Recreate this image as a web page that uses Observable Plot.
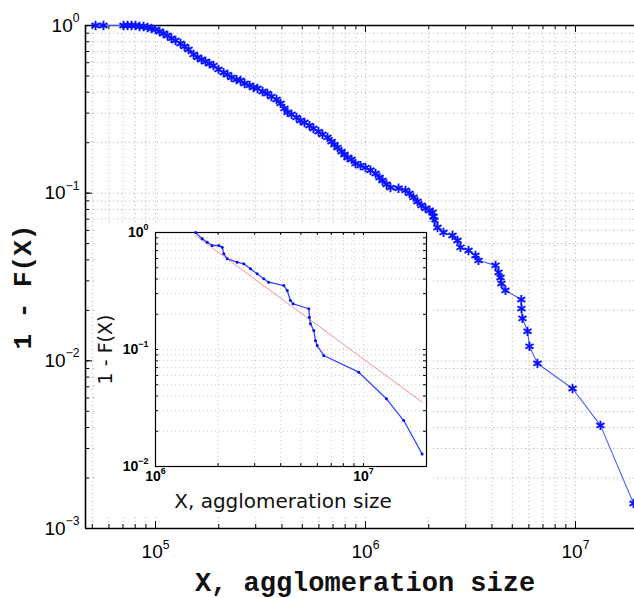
<!DOCTYPE html>
<html><head><meta charset="utf-8">
<script src="https://cdn.jsdelivr.net/npm/d3@7"></script>
<script src="https://cdn.jsdelivr.net/npm/@observablehq/plot@0.6"></script>
<style>
body{margin:0;background:#fff;}
#wrap{position:relative;width:634px;height:598px;overflow:hidden;background:#fff;}
#wrap svg{position:absolute;}
</style></head><body><div id="wrap"></div>
<script>
// ---- main CCDF ----
const mainX = [5.18e4,5.65e4,7.04e4,7.36e4,7.69e4,8.03e4,8.39e4,8.77e4,9.16e4,9.57e4,
  1.0e5,1.045e5,1.09e5,1.14e5,1.19e5,1.245e5,1.315e5,1.374e5,1.436e5,1.517e5,
  1.585e5,1.656e5,1.73e5,1.807e5,1.888e5,1.995e5,2.109e5,2.203e5,2.30e5,2.43e5,
  2.54e5,2.655e5,2.805e5,2.93e5,3.06e5,3.235e5,3.41e5,3.565e5,3.77e5,3.94e5,
  4.11e5,4.255e5,4.445e5,4.69e5,4.90e5,5.125e5,5.41e5,5.65e5,5.97e5,6.24e5,
  6.59e5,6.89e5,7.12e5,7.36e5,7.69e5,7.94e5,8.21e5,8.58e5,8.96e5,9.47e5,
  1.0e6,1.056e6,1.116e6,1.166e6,1.205e6,1.259e6,1.315e6,1.436e6,1.55e6,1.62e6,
  1.693e6,1.768e6,1.848e6,1.931e6,2.018e6,2.085e6,2.108e6,2.131e6,2.202e6,2.352e6,
  2.596e6,2.742e6,2.834e6,3.094e6,3.34e6,3.452e6,4.16e6,4.30e6,4.395e6,4.44e6,
  4.64e6,5.52e6,5.53e6,5.59e6,5.91e6,6.04e6,6.59e6,9.68e6,1.315e7,1.89e7];
const mainY = [1,1,1,1,1,1,0.986,0.986,0.973,0.960,
  0.946,0.921,0.896,0.872,0.837,0.814,0.781,0.750,0.719,0.672,
  0.645,0.627,0.610,0.593,0.577,0.547,0.524,0.510,0.490,0.476,
  0.470,0.451,0.439,0.427,0.421,0.404,0.393,0.377,0.362,0.343,
  0.320,0.303,0.295,0.283,0.271,0.264,0.253,0.243,0.233,0.224,
  0.215,0.203,0.195,0.187,0.177,0.170,0.163,0.159,0.150,0.146,
  0.142,0.137,0.131,0.124,0.119,0.113,0.108,0.107,0.104,0.0996,
  0.0943,0.0892,0.0845,0.0811,0.0788,0.0767,0.0726,0.0688,0.0624,0.0583,
  0.0559,0.0522,0.0475,0.0455,0.0425,0.0397,0.0371,0.0337,0.0314,0.0289,
  0.0263,0.0232,0.0205,0.0179,0.0150,0.0122,0.00965,0.00684,0.00412,0.00141];

// ---- inset: tail CCDF and power-law fit ----
const insetX = [1.557e6,1.677e6,1.773e6,1.873e6,2.016e6,2.093e6,2.130e6,2.212e6,2.471e6,2.658e6,
  2.862e6,3.083e6,3.317e6,3.505e6,4.14e6,4.30e6,4.457e6,4.59e6,5.46e6,5.50e6,
  5.56e6,5.77e6,5.88e6,5.99e6,6.44e6,9.49e6,1.29e7,1.562e7,1.915e7];
const insetY = [1,0.884,0.826,0.774,0.774,0.749,0.658,0.596,0.557,0.540,
  0.489,0.444,0.402,0.376,0.352,0.319,0.262,0.246,0.223,0.189,
  0.166,0.145,0.119,0.108,0.0889,0.0640,0.0379,0.0247,0.0128];
const fitX = [1.557e6, 1.915e7];
const fitY = [0.943, 0.0355];

// ---- axes / ticks ----
const mainXDomain = [46400, 1.91e7];
const mainYDomain = [1e-3, 1];
const mainXTicks = [1e5, 1e6, 1e7];
const mainYTicks = [1e-3, 1e-2, 1e-1, 1];
const mainXGrid = [5e4,6e4,7e4,8e4,9e4,1e5,2e5,3e5,4e5,5e5,6e5,7e5,8e5,9e5,1e6,2e6,3e6,4e6,5e6,6e6,7e6,8e6,9e6,1e7];
const mainYGrid = [2e-3,3e-3,4e-3,5e-3,6e-3,7e-3,8e-3,9e-3,1e-2,2e-2,3e-2,4e-2,5e-2,6e-2,7e-2,8e-2,9e-2,1e-1,0.2,0.3,0.4,0.5,0.6,0.7,0.8,0.9];
const insetXDomain = [1e6, 2.01e7];
const insetYDomain = [1e-2, 1];
const insetXTicks = [1e6, 1e7];
const insetYTicks = [1e-2, 1e-1, 1];
const insetXGrid = [2e6,3e6,4e6,5e6,6e6,7e6,8e6,9e6,1e7];
const insetYGrid = [2e-2,3e-2,4e-2,5e-2,6e-2,7e-2,8e-2,9e-2,1e-1,0.2,0.3,0.4,0.5,0.6,0.7,0.8,0.9];

const xTitle = "X, agglomeration size";
const yTitle = "1 - F(X)";

const mainData = mainX.map((x, i) => ({x, y: mainY[i]}));
const insetData = insetX.map((x, i) => ({x, y: insetY[i]}));
const fitData = fitX.map((x, i) => ({x, y: fitY[i]}));
const expFmt = d => "10^" + String(Math.round(Math.log10(d))).replace("-", "\u2212");

function supify(svg) {
  const ns = "http://www.w3.org/2000/svg";
  svg.querySelectorAll('g[aria-label="x-axis tick label"] text, g[aria-label="y-axis tick label"] text').forEach(t => {
    const s = t.textContent;
    if (!s.includes("^")) return;
    const [b, e] = s.split("^");
    t.textContent = "";
    const t1 = document.createElementNS(ns, "tspan"); t1.textContent = b;
    const t2 = document.createElementNS(ns, "tspan"); t2.textContent = e;
    t2.setAttribute("font-size", "0.64em"); t2.setAttribute("dy", "-0.78em");
    t.append(t1, t2);
  });
}

// ---- main plot ----
const W = 634, H = 598, mL = 85, mT = 25, mR = 0, mB = 70;
const fW = W - mL - mR, fH = H - mT - mB;
const main = Plot.plot({
  width: W, height: H, marginLeft: mL, marginTop: mT, marginRight: mR, marginBottom: mB,
  style: {fontFamily: "Liberation Sans", fontSize: "19px", background: "white", overflow: "visible"},
  x: {type: "log", domain: mainXDomain, axis: null},
  y: {type: "log", domain: mainYDomain, axis: null},
  marks: [
    Plot.ruleX(mainXGrid, {x: d => d, stroke: "#b4b4b4", strokeDasharray: "1,3", strokeWidth: 1}),
    Plot.ruleY(mainYGrid, {y: d => d, stroke: "#b4b4b4", strokeDasharray: "1,3", strokeWidth: 1}),
    Plot.tickX(mainXGrid, {x: d => d, stroke: "black", insetTop: fH - 4}),
    Plot.tickX(mainXTicks, {x: d => d, stroke: "black", insetTop: fH - 7}),
    Plot.tickX(mainXGrid, {x: d => d, stroke: "black", insetBottom: fH - 4}),
    Plot.tickX(mainXTicks, {x: d => d, stroke: "black", insetBottom: fH - 7}),
    Plot.tickY(mainYGrid, {y: d => d, stroke: "black", insetRight: fW - 4}),
    Plot.tickY(mainYTicks, {y: d => d, stroke: "black", insetRight: fW - 7}),
    Plot.ruleX([mainXDomain[0]], {x: d => d, stroke: "black", strokeWidth: 1.6}),
    Plot.ruleY(mainYDomain, {y: d => d, stroke: "black", strokeWidth: 1.6}),
    Plot.line(mainData, {x: "x", y: "y", stroke: "#4a5cff", strokeWidth: 1.1}),
    Plot.dot(mainData, {x: "x", y: "y", symbol: "asterisk", r: 4.4, stroke: "#0a14ff", strokeWidth: 1.9}),
    Plot.axisX(mainXTicks, {tickSize: 0, tickPadding: 16, tickFormat: expFmt, label: null, fontSize: 19}),
    Plot.axisY(mainYTicks, {tickSize: 0, tickPadding: 6, tickFormat: expFmt, label: null, fontSize: 19}),
    Plot.text([xTitle], {text: d => d, frameAnchor: "bottom", textAnchor: "middle", lineAnchor: "middle", dx: 5, dy: 54, fontFamily: "Liberation Mono", fontWeight: "bold", fontSize: 27, fill: "#111"}),
    Plot.text([yTitle], {text: d => d, frameAnchor: "left", textAnchor: "middle", lineAnchor: "middle", dx: -63, dy: 10, rotate: -90, fontFamily: "Liberation Mono", fontWeight: "bold", fontSize: 26, fill: "#111"})
  ]
});
main.style.left = "0px"; main.style.top = "0px";
supify(main);
document.getElementById("wrap").append(main);

// ---- inset plot ----
const iW = 337, iH = 293, iL = 60, iT = 10, iR = 6, iB = 49;
const ifW = iW - iL - iR, ifH = iH - iT - iB;
const inset = Plot.plot({
  width: iW, height: iH, marginLeft: iL, marginTop: iT, marginRight: iR, marginBottom: iB,
  style: {fontFamily: "Liberation Sans", fontSize: "14px", background: "white", overflow: "visible"},
  x: {type: "log", domain: insetXDomain, axis: null},
  y: {type: "log", domain: insetYDomain, axis: null},
  marks: [
    Plot.ruleX(insetXGrid, {x: d => d, stroke: "#cccccc", strokeDasharray: "1,3"}),
    Plot.ruleY(insetYGrid, {y: d => d, stroke: "#cccccc", strokeDasharray: "1,3"}),
    Plot.tickX(insetXGrid, {x: d => d, stroke: "black", insetTop: ifH - 3}),
    Plot.tickX(insetXGrid, {x: d => d, stroke: "black", insetBottom: ifH - 3}),
    Plot.tickY(insetYGrid, {y: d => d, stroke: "black", insetRight: ifW - 3}),
    Plot.tickY(insetYGrid, {y: d => d, stroke: "black", insetLeft: ifW - 3}),
    Plot.frame({stroke: "black", strokeWidth: 1.2}),
    Plot.line(fitData, {x: "x", y: "y", stroke: "#f39090", strokeWidth: 1}),
    Plot.line(insetData, {x: "x", y: "y", stroke: "#3344ff", strokeWidth: 1.3}),
    Plot.dot(insetData, {x: "x", y: "y", r: 1.5, fill: "#0010ee", stroke: "none"}),
    Plot.axisX(insetXTicks, {tickSize: 0, tickPadding: 5, tickFormat: expFmt, label: null, fontWeight: "bold", fontSize: 14}),
    Plot.axisY(insetYTicks, {tickSize: 0, tickPadding: 7, tickFormat: expFmt, label: null, fontWeight: "bold", fontSize: 14}),
    Plot.text([xTitle], {text: d => d, frameAnchor: "bottom", textAnchor: "middle", lineAnchor: "middle", dx: -8, dy: 35, fontFamily: "DejaVu Sans", fontSize: 20, fill: "#111"}),
    Plot.text([yTitle], {text: d => d, frameAnchor: "left", textAnchor: "middle", lineAnchor: "middle", dx: -50, rotate: -90, fontFamily: "DejaVu Sans", fontSize: 19, fill: "#111"})
  ]
});
inset.style.left = "95px"; inset.style.top = "222px";
supify(inset);
document.getElementById("wrap").append(inset);
</script></body></html>
